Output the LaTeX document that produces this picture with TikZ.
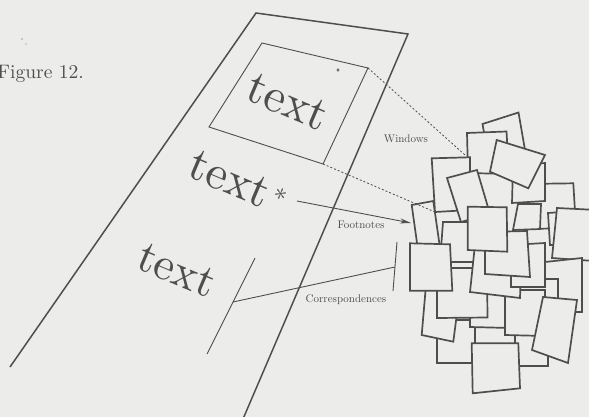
\documentclass[tikz,border=0pt]{standalone}
\usetikzlibrary{arrows.meta}
\definecolor{bg}{RGB}{236,236,234}
\definecolor{ink}{RGB}{78,78,78}
\begin{document}
\begin{tikzpicture}[x=1pt,y=-1pt,
  sq/.style={draw=ink, fill=bg, line width=1.7pt, line join=miter},
  pageline/.style={draw=ink, line width=1.5pt},
  thinline/.style={draw=ink, line width=0.9pt},
  dotline/.style={draw=ink, line width=0.8pt, dash pattern=on 2pt off 2pt},
  bigtext/.style={text=ink, inner sep=0pt, rotate=-23, font=\fontsize{10}{12}\selectfont},
  lab/.style={text=ink, inner sep=0pt, font=\fontsize{10}{12}\selectfont, scale=1.1}]
\fill[bg] (0,0) rectangle (589,417);
\useasboundingbox (0,0) rectangle (589,417);

% smudges
\fill[ink!70] (22,39) ellipse (1.2pt and 0.6pt);
\fill[ink!70] (26,44) ellipse (0.8pt and 0.5pt);
\fill[ink!80] (338,70) ellipse (1.6pt and 1.8pt);

\node[text=ink, anchor=base west, inner sep=0pt, font=\fontsize{10}{12}\selectfont, scale=1.95] (fig) at (-3,79) {Figure 12.};

% page
\coordinate (pTL) at (256,13);
\coordinate (pTR) at (408,34);
\coordinate (pBR) at (243,419);
\coordinate (pBL) at (10,367);
\draw[pageline] (pBL) -- (pTL) -- (pTR) -- (pBR);

% inner window box
\coordinate (wTL) at (262,43);
\coordinate (wTR) at (368,68);
\coordinate (wBR) at (323,164);
\coordinate (wBL) at (209,127);
\draw[thinline] (wTL) -- (wTR) -- (wBR) -- (wBL) -- cycle;

% texts
\node[bigtext, scale=4.8] (t1) at (288,102) {text};
\node[bigtext, scale=4.8] (t2) at (230,179) {text};
\node[bigtext, scale=2.6] (ast) at (281,194) {$\ast$};
\node[bigtext, scale=4.6] (t3) at (177,270) {text};

% pile of squares
\filldraw[sq] (482.5,124) -- (518.5,112.5) -- (525,150) -- (489,161) -- cycle;
\filldraw[sq] (524,184) -- (573.3,183.3) -- (576,228) -- (526,229) -- cycle;
\filldraw[sq] (513,166) -- (545,163) -- (545,201) -- (512,203) -- cycle;
\filldraw[sq] (467,133) -- (506.5,131.5) -- (509,174) -- (468,173) -- cycle;
\filldraw[sq] (496.7,140) -- (545,155) -- (528.3,188.3) -- (490,171.7) -- cycle;
\filldraw[sq] (411.7,205) -- (433.3,201) -- (440,248) -- (418,250) -- cycle;
\filldraw[sq] (431.7,158.3) -- (470,157.3) -- (470,210) -- (435,212) -- cycle;
\filldraw[sq] (443,222) -- (482,222) -- (482,262) -- (440,262) -- cycle;
\filldraw[sq] (447,178) -- (477,170) -- (490,214) -- (461,222) -- cycle;
\filldraw[sq] (548,213) -- (562,212) -- (562,245) -- (550,245) -- cycle;
\filldraw[sq] (518,204) -- (541,204) -- (540,229) -- (513,230) -- cycle;
\filldraw[sq] (557,208) -- (597,210) -- (594,261) -- (552,258) -- cycle;
\filldraw[sq] (545,262) -- (582,258) -- (582,312) -- (545,312) -- cycle;
\filldraw[sq] (520,279) -- (558,279) -- (558,322) -- (520,322) -- cycle;
\filldraw[sq] (437,320) -- (475,320) -- (475,363) -- (437,363) -- cycle;
\filldraw[sq] (426,285) -- (460,290) -- (453.3,341.7) -- (421.7,335) -- cycle;
\filldraw[sq] (470,285) -- (510,285) -- (510,328) -- (470,327) -- cycle;
\filldraw[sq] (437,268) -- (487,268) -- (487.5,317.5) -- (437,318) -- cycle;
\filldraw[sq] (515,325) -- (548,323) -- (548,366) -- (515,366) -- cycle;
\filldraw[sq] (505,290) -- (545,290) -- (545,336) -- (505,335) -- cycle;
\filldraw[sq] (476,235) -- (522,238) -- (520,298) -- (470,292) -- cycle;
\filldraw[sq] (511,245) -- (545,243) -- (545,287) -- (511,287) -- cycle;
\filldraw[sq] (485,232) -- (527,231) -- (530,277) -- (485,274) -- cycle;
\filldraw[sq] (467.7,206.7) -- (506.7,207.3) -- (507.3,251.7) -- (467.7,250) -- cycle;
\filldraw[sq] (410,243.3) -- (450,244.3) -- (452.3,290.7) -- (410,290.7) -- cycle;
\filldraw[sq] (471.7,343.3) -- (518.3,343.3) -- (520,388.3) -- (472.7,393.3) -- cycle;
\filldraw[sq] (543,297) -- (577,300) -- (568,363) -- (532,350) -- cycle;

% connectors
\coordinate (winA) at (465,155);
\coordinate (winB) at (435,212);
\draw[dotline] (wTR) -- (winA);
\draw[dotline] (wBR) -- (winB);
\node[lab] (lw) at (406,139) {Windows};

\coordinate (fnS) at (297,201);
\coordinate (fnE) at (411,223);
\draw[thinline, -{Stealth[length=11pt,width=5pt]}] (fnS) -- (fnE);
\node[lab] (lf) at (361,224.5) {Footnotes};

\coordinate (cL1) at (255,258);
\coordinate (cL2) at (207,354);
\coordinate (cR1) at (397,242);
\coordinate (cR2) at (393,291);
\coordinate (cLm) at (233,302);
\coordinate (cRm) at (395,267);
\draw[thinline] (cL1) -- (cL2);
\draw[thinline] (cR1) -- (cR2);
\draw[thinline] (cLm) -- (cRm);
\node[lab] (lc) at (346,300) {Correspondences};
\end{tikzpicture}
\end{document}
